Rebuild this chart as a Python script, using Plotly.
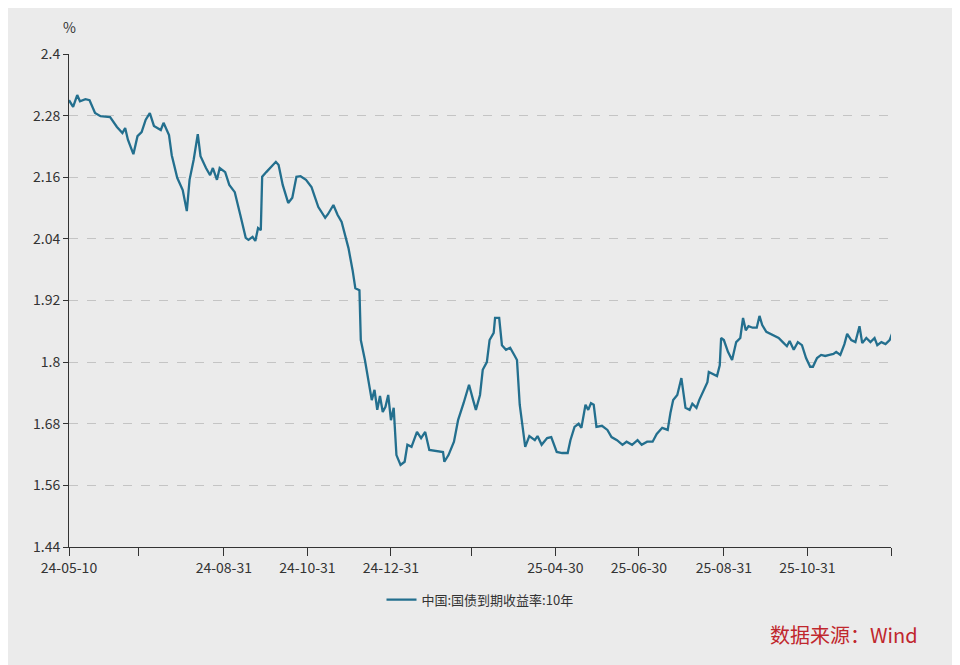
import pandas as pd
import plotly.graph_objects as go

# days since 2024-05-10 and 10y CGB yield (%)
day_offset = [0,3,6,8,12,15,19,23,30,35,39,41,43,47,50,53,56,59,62,67,69,73,75,79,83,86,88,91,94,96,
              100,103,105,108,110,114,117,121,125,129,131,134,136,138,140,141,144,147,151,153,156,160,163,166,169,173,177,179,182,187,
              189,193,196,199,201,204,207,209,212,213,216,219,221,223,225,227,229,231,233,235,237,239,242,245,247,250,252,254,257,260,
              263,268,273,274,277,281,284,288,292,295,297,300,302,305,307,310,311,314,316,319,322,325,327,329,331,333,336,338,340,342,
              345,349,352,356,360,364,366,369,372,374,377,379,381,383,385,389,393,396,400,404,407,411,415,418,422,426,429,433,437,439,
              441,444,447,450,453,455,458,460,463,466,467,470,473,475,476,478,481,484,487,490,492,494,496,499,502,504,506,509,512,515,
              518,521,524,526,529,532,535,538,541,543,546,549,552,555,558,560,563,566,568,571,574,577,579,582,585,588,590,593,596,599,601,602]
yield_10y = [2.310,2.297,2.320,2.308,2.312,2.310,2.285,2.279,2.277,2.258,2.246,2.256,2.233,2.205,2.240,2.248,2.272,2.285,2.260,2.252,
             2.266,2.242,2.203,2.159,2.135,2.094,2.155,2.194,2.244,2.201,2.178,2.164,2.178,2.155,2.178,2.170,2.145,2.131,2.087,2.042,
             2.038,2.044,2.036,2.061,2.057,2.161,2.170,2.178,2.190,2.184,2.145,2.110,2.120,2.161,2.162,2.155,2.141,2.125,2.102,2.081,
             2.088,2.106,2.087,2.073,2.053,2.022,1.979,1.944,1.940,1.843,1.804,1.756,1.726,1.746,1.707,1.734,1.703,1.713,1.736,1.687,
             1.711,1.619,1.600,1.606,1.639,1.635,1.648,1.664,1.652,1.664,1.629,1.627,1.625,1.606,1.619,1.645,1.687,1.720,1.756,1.726,
             1.707,1.736,1.785,1.800,1.843,1.857,1.886,1.886,1.833,1.824,1.828,1.814,1.804,1.717,1.678,1.635,1.656,1.652,1.648,1.656,
             1.639,1.652,1.654,1.625,1.623,1.623,1.648,1.674,1.680,1.672,1.717,1.707,1.720,1.717,1.674,1.676,1.668,1.654,1.648,1.639,
             1.645,1.639,1.648,1.639,1.645,1.645,1.660,1.672,1.668,1.701,1.726,1.736,1.769,1.711,1.707,1.719,1.711,1.726,1.744,1.761,
             1.781,1.777,1.773,1.794,1.847,1.843,1.820,1.804,1.839,1.847,1.886,1.862,1.870,1.867,1.867,1.890,1.872,1.859,1.855,1.851,
             1.847,1.839,1.831,1.841,1.824,1.839,1.833,1.808,1.791,1.791,1.808,1.814,1.812,1.814,1.816,1.820,1.814,1.835,1.855,1.843,
             1.839,1.870,1.837,1.847,1.839,1.847,1.833,1.839,1.835,1.843,1.857,1.855]

tick_dates = ["2024-05-10","2024-06-30","2024-08-31","2024-10-31","2024-12-31","2025-02-28",
              "2025-04-30","2025-06-30","2025-08-31","2025-10-31","2025-12-31"]
tick_labels = ["24-05-10","","24-08-31","24-10-31","24-12-31","","25-04-30","25-06-30","25-08-31","25-10-31",""]
y_ticks = [1.44,1.56,1.68,1.8,1.92,2.04,2.16,2.28,2.4]

dates = pd.Timestamp("2024-05-10") + pd.to_timedelta(day_offset, unit="D")

fig = go.Figure()
fig.add_trace(go.Scatter(x=dates, y=yield_10y, mode="lines", name="中国:国债到期收益率:10年",
                         line=dict(color="#236f8e", width=2.3)))

bg = "#ebebeb"
fig.update_layout(
    width=960, height=665, paper_bgcolor=bg, plot_bgcolor=bg,
    margin=dict(l=61, r=77, t=46, b=126),
    font=dict(family="Noto Sans CJK SC, Noto Sans, sans-serif", size=14, color="#333"),
    showlegend=True,
    legend=dict(orientation="h", x=0.5, xanchor="center", y=-0.107, yanchor="middle", font=dict(size=13)),
    xaxis=dict(range=["2024-05-10","2025-12-31"], tickvals=tick_dates, ticktext=tick_labels,
               showgrid=False, showline=True, linecolor="#333", ticks="outside", ticklen=8,
               tickcolor="#333", zeroline=False),
    yaxis=dict(range=[1.44,2.4], tickvals=y_ticks, ticktext=[str(v) for v in y_ticks],
               showgrid=True, gridcolor="#c4c4c4", griddash="dash", showline=True,
               linecolor="#333", ticks="outside", ticklen=5, tickcolor="#333", zeroline=False),
)
fig.add_annotation(text="%", xref="paper", yref="paper", x=0, y=1.055, xanchor="center",
                   yanchor="middle", showarrow=False, font=dict(size=14, color="#333"))
fig.add_annotation(text="数据来源：Wind", xref="paper", yref="paper", x=1.035, y=-0.178,
                   xanchor="right", yanchor="middle", showarrow=False, font=dict(size=20, color="#c0272d"))
fig.write_html("out.html")
